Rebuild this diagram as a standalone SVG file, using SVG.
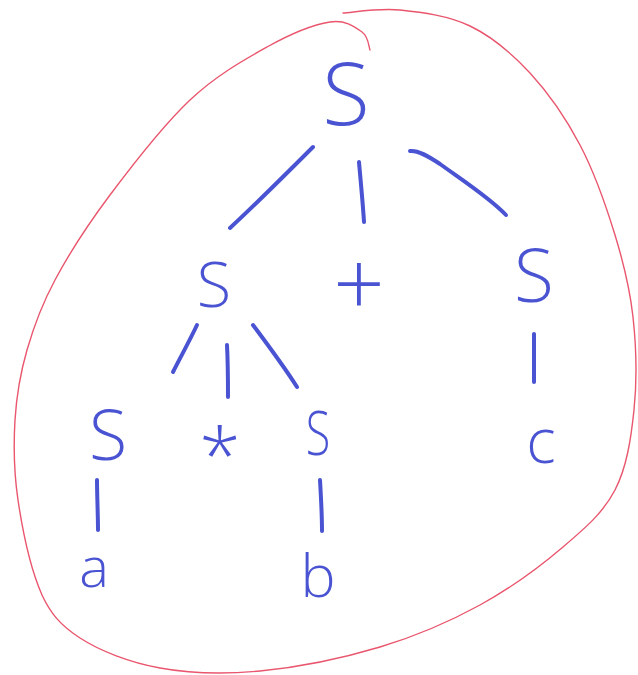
<svg xmlns="http://www.w3.org/2000/svg" width="638" height="675" viewBox="0 0 638 675">
<style>
.t{fill:#4a54d2;font-family:"Open Sans","Liberation Sans",sans-serif;font-weight:300;text-anchor:middle}
.e{fill:none;stroke:#4a54d2;stroke-width:4;stroke-linecap:round;stroke-linejoin:round}
.o{fill:none;stroke:#e9566e;stroke-width:1.4;stroke-linecap:round}
</style>
<rect width="638" height="675" fill="#ffffff"/>
<g id="outline">
<path class="o" d="M343,13 C352.5,12.5 378.8,7.8 400,10 C421.2,12.2 448.3,15.5 470,26 C491.7,36.5 511.7,53.2 530,73 C548.3,92.8 565.8,118 580,145 C594.2,172 606.2,206.3 615,235 C623.8,263.7 629.8,287.8 633,317 C636.2,346.2 637,381.2 634,410 C631,438.8 626.8,467.2 615,490 C603.2,512.8 585.5,527.8 563,547 C540.5,566.2 510.5,588.3 480,605 C449.5,621.7 416.7,636 380,647 C343.3,658 296.7,667.5 260,671 C223.3,674.5 190,673.5 160,668 C130,662.5 100,651 80,638 C60,625 50.3,613 42,595 C29.7,567 22.2,528.3 18,500 C13.8,471.7 13.5,445 15,420 C16.5,395 20.3,373.3 27,350 C33.7,326.7 41.2,305.8 55,280 C68.8,254.2 87.5,225 110,195 C132.5,165 163.8,124.7 190,100 C216.2,75.3 243.7,60 267,47 C290.3,34 314.2,24.5 330,22 C345.8,19.5 355.3,27.3 362,32 C368.7,36.7 368.7,47 370,50"/>
</g>
<g id="connectors">
<path class="e" d="M313,147 C290,170 255,205 230,228"/>
<path class="e" d="M359,162 C361,185 363,205 364,222"/>
<path class="e" d="M410,151 C418,150 428,156 440,164 C465,182 490,198 506,215"/>
<path class="e" d="M197,325 C190,340 180,358 173,372"/>
<path class="e" d="M227,345 C228,365 228,382 228,397"/>
<path class="e" d="M253,325 C268,345 285,368 297,387"/>
<path class="e" d="M97,480 C97,495 98,515 98,530"/>
<path class="e" d="M320,480 C321,497 322,515 322,531"/>
<path class="e" d="M534,334 L534,382"/>
</g>
<g id="n_root"><text class="t" x="346" y="125" font-size="87">S</text></g>
<g id="n_s1"><text class="t" x="214" y="307" font-size="63">S</text></g>
<g id="n_plus"><text class="t" x="359" y="316" font-size="90">+</text></g>
<g id="n_s2"><text class="t" x="534" y="302" font-size="73">S</text></g>
<g id="n_s3"><text class="t" x="108" y="460" font-size="70">S</text></g>
<g id="n_star"><text class="t" x="220" y="483" font-size="75">*</text></g>
<g id="n_s4"><text class="t" transform="translate(318,455) scale(0.75,1)" font-size="60">S</text></g>
<g id="n_c"><text class="t" x="541" y="463" font-size="62">c</text></g>
<g id="n_a"><text class="t" x="94" y="587" font-size="56">a</text></g>
<g id="n_b"><text class="t" x="318" y="597" font-size="59">b</text></g>
</svg>
